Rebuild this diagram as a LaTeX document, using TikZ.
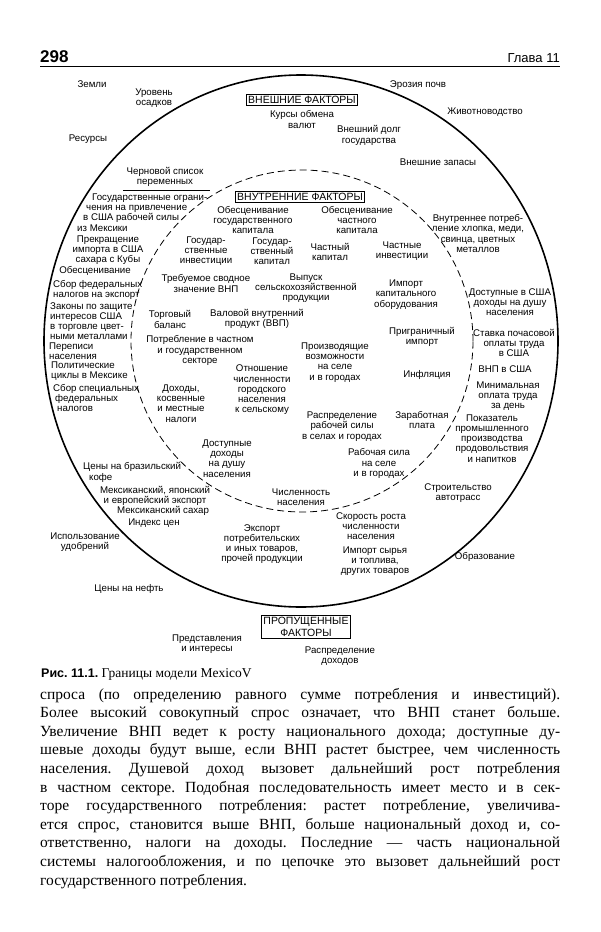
\documentclass[tikz,border=0pt]{standalone}
\usepackage{fontspec}
\setmainfont{Liberation Serif}
\setsansfont{Liberation Sans}
\frenchspacing
\begin{document}
\begin{tikzpicture}[x=1pt,y=-1pt,
    lbl/.style={font=\sffamily\fontsize{9.7}{10.2}\selectfont, align=center, inner sep=0pt},
    lbll/.style={lbl, align=left, anchor=west},
    factorbox/.style={draw, line width=0.9pt, font=\sffamily\fontsize{10.5}{12}\selectfont, align=center, inner xsep=2pt, inner ysep=1.5pt},
    bodyline/.style={font=\fontsize{15.5}{18}\selectfont, anchor=base west, inner sep=0pt}]
    \useasboundingbox (0,0) rectangle (600,932);
    % page head
    \node[anchor=base west, inner sep=0pt, font=\sffamily\bfseries\fontsize{17}{20}\selectfont] (pagenum) at (40,62) {298};
    \node[anchor=base east, inner sep=0pt, font=\sffamily\fontsize{13}{15}\selectfont] (chapter) at (560,62) {Глава 11};
    \draw[line width=0.8pt] (40,66) -- (560,66);
    % boundaries
    \draw[line width=1.6pt] (301,341) ellipse [x radius=257pt, y radius=266pt];
    \draw[line width=0.8pt, dash pattern=on 7pt off 4pt] (302,341) circle [radius=171pt];
    \node[factorbox, fill=white] (extbox) at (302,100) {ВНЕШНИЕ ФАКТОРЫ};
    \node[factorbox, fill=white] (intbox) at (300,197) {ВНУТРЕННИЕ ФАКТОРЫ};
    \node[factorbox, fill=white] (lostbox) at (306,627) {ПРОПУЩЕННЫЕ\\ФАКТОРЫ};
    % outside the model
    \node[lbl] (lands) at (92,84) {Земли};
    \node[lbl] (rain) at (154,98) {Уровень\\осадков};
    \node[lbl] (resources) at (88,139) {Ресурсы};
    \node[lbl] (erosion) at (418,85) {Эрозия почв};
    \node[lbl] (livestock) at (485,112) {Животноводство};
    \node[lbl] (fertil) at (85,542) {Использование\\удобрений};
    \node[lbl] (oilprice) at (129,589) {Цены на нефть};
    \node[lbl] (education) at (485,557) {Образование};
    \node[lbl] (views) at (207,644) {Представления\\и интересы};
    \node[lbl] (incdist) at (340,656) {Распределение\\доходов};
    % external factors
    \node[lbl] (rates) at (302,119.5) {Курсы обмена\\валют};
    \node[lbl] (debt) at (369,135.5) {Внешний долг\\государства};
    \node[lbl] (reserves) at (438,162) {Внешние запасы};
    \node[lbl] (draft) at (165,177) {Черновой список\\переменных};
    \draw[line width=0.6pt] (123,190) -- (210,190);
    \node[lbll] (govlimits) at (77,212.5) {\hspace*{15pt}Государственные ограни-\\\hspace*{9pt}чения на привлечение\\\hspace*{6pt}в США рабочей силы\\из Мексики};
    \node[lbl] (sugarstop) at (108,250) {Прекращение\\импорта в США\\сахара с Кубы};
    \node[lbl] (devalue) at (95,271) {Обесценивание};
    \node[lbll] (fedexport) at (53,290) {Сбор федеральных\\налогов на экспорт};
    \node[lbll] (metals) at (50,321) {Законы по защите\\интересов США\\в торговле цвет-\\ными металлами};
    \node[lbll] (census) at (49,351.5) {Переписи\\населения};
    \node[lbll] (polcycles) at (51,371.5) {Политические\\циклы в Мексике};
    \node[lbll] (specfed) at (53,398) {Сбор специальных\\\hspace*{2pt}федеральных\\\hspace*{4pt}налогов};
    \node[lbll] (coffee) at (83,472.5) {Цены на бразильский\\\hspace*{6pt}кофе};
    \node[lbl] (mexexport) at (155,496) {Мексиканский, японский\\и европейский экспорт};
    \node[lbl] (mexsugar) at (163,511) {Мексиканский сахар};
    \node[lbl] (priceidx) at (154,523) {Индекс цен};
    \node[lbl] (exports) at (262,544) {Экспорт\\потребительских\\и иных товаров,\\прочей продукции};
    \node[lbl] (popgrowth) at (371,526) {Скорость роста\\численности\\населения};
    \node[lbl] (rawimport) at (375,561) {Импорт сырья\\и топлива,\\других товаров};
    \node[lbl] (highways) at (458,493) {Строительство\\автотрасс};
    \node[lbl] (uscons) at (478,233.5) {Внутреннее потреб-\\ление хлопка, меди,\\свинца, цветных\\металлов};
    \node[lbl] (usincome) at (510,302) {Доступные в США\\доходы на душу\\населения};
    \node[lbl] (ushourly) at (514,343) {Ставка почасовой\\оплаты труда\\в США};
    \node[lbl] (usgnp) at (505,369) {ВНП в США};
    \node[lbl] (minwage) at (508,396) {Минимальная\\оплата труда\\за день};
    \node[lbl] (foodindex) at (492,438.5) {Показатель\\промышленного\\производства\\продовольствия\\и напитков};
    % internal factors
    \node[lbl] (govdep) at (253,220) {Обесценивание\\государственного\\капитала};
    \node[lbl] (privdep) at (357,220) {Обесценивание\\частного\\капитала};
    \node[lbl] (govinv) at (206,251) {Государ-\\ственные\\инвестиции};
    \node[lbl] (govcap) at (272,251) {Государ-\\ственный\\капитал};
    \node[lbl] (privcap) at (330,252) {Частный\\капитал};
    \node[lbl] (privinv) at (402,251.5) {Частные\\инвестиции};
    \node[lbl] (reqgnp) at (206,283.5) {Требуемое сводное\\значение ВНП};
    \node[lbl] (agri) at (306,288) {Выпуск\\сельскохозяйственной\\продукции};
    \node[lbl] (capimport) at (406,294.5) {Импорт\\капитального\\оборудования};
    \node[lbl] (trade) at (170,319.5) {Торговый\\баланс};
    \node[lbl] (gdp) at (257,319) {Валовой внутренний\\продукт (ВВП)};
    \node[lbl] (border) at (422,337) {Приграничный\\импорт};
    \node[lbl] (consumption) at (200,350.5) {Потребление в частном\\и государственном\\секторе};
    \node[lbl] (capacity) at (335,362.5) {Производящие\\возможности\\на селе\\и в городах};
    \node[lbl] (inflation) at (427,375) {Инфляция};
    \node[lbl] (urbanratio) at (262,390) {Отношение\\численности\\городского\\населения\\к сельскому};
    \node[lbl] (taxes) at (181,403.5) {Доходы,\\косвенные\\и местные\\налоги};
    \node[lbl] (labordist) at (342,426.5) {Распределение\\рабочей силы\\в селах и городах};
    \node[lbl] (wages) at (422,420) {Заработная\\плата};
    \node[lbl] (disposable) at (227,458.5) {Доступные\\доходы\\на душу\\населения};
    \node[lbl] (laborforce) at (379,463.5) {Рабочая сила\\на селе\\и в городах};
    \node[lbl] (population) at (301,497.5) {Численность\\населения};
    % caption and text
    \node[anchor=base west, inner sep=0pt] (caption) at (41,677) {\sffamily\bfseries\fontsize{12.5}{14}\selectfont Рис. 11.1. \rmfamily\mdseries\fontsize{13.5}{15}\selectfont Границы модели MexicoV};
    \foreach \ln [count=\i] in {
        {спроса (по определению равного сумме потребления и инвестиций).},
        {Более высокий совокупный спрос означает, что ВНП станет больше.},
        {Увеличение ВНП ведет к росту национального дохода; доступные ду-},
        {шевые доходы будут выше, если ВНП растет быстрее, чем численность},
        {населения. Душевой доход вызовет дальнейший рост потребления},
        {в частном секторе. Подобная последовательность имеет место и в сек-},
        {торе государственного потребления: растет потребление, увеличива-},
        {ется спрос, становится выше ВНП, больше национальный доход и, со-},
        {ответственно, налоги на доходы. Последние — часть национальной},
        {системы налогообложения, и по цепочке это вызовет дальнейший рост}}
        \node[bodyline] (body\i) at (40,{699+18.6*(\i-1)}) {\makebox[520pt][s]{\ln}};
    \node[bodyline] (body11) at (40,885) {государственного потребления.};
\end{tikzpicture}
\end{document}
